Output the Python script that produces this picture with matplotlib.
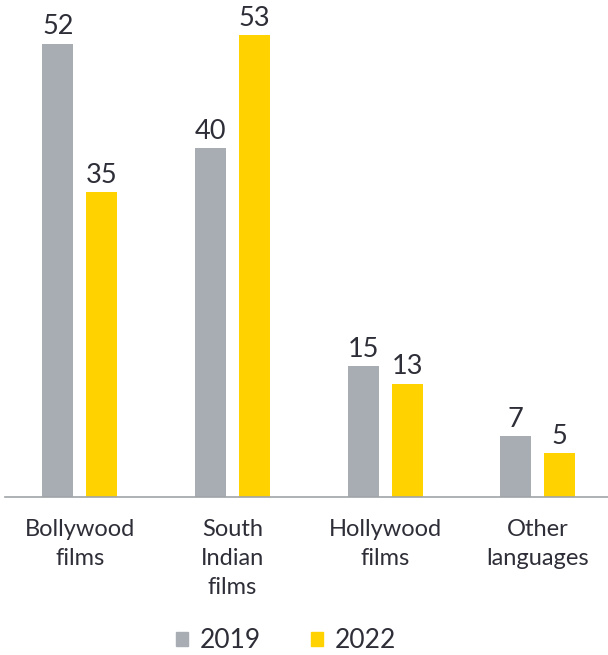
import numpy as np
import matplotlib.pyplot as plt
from matplotlib.patches import Patch

categories = ['Bollywood\nfilms', 'South\nIndian\nfilms', 'Hollywood\nfilms', 'Other\nlanguages']
vals_2019 = [52, 40, 15, 7]
vals_2022 = [35, 53, 13, 5]
series = ['2019', '2022']

GREY = '#a8adb3'
YELLOW = '#ffd200'
TXT = '#2e2e38'

plt.rcParams['font.family'] = ['Lato', 'DejaVu Sans']

fig = plt.figure(figsize=(6.08, 6.55), dpi=100)
ax = fig.add_axes([5/608, 158/655, 603/608, 497/655])

x = np.arange(len(categories))
w = 0.203
off = 0.144
b1 = ax.bar(x - off, vals_2019, w, color=GREY)
b2 = ax.bar(x + off, vals_2022, w, color=YELLOW)

for bars in (b1, b2):
    for r in bars:
        ax.annotate(str(int(r.get_height())), (r.get_x() + r.get_width()/2, r.get_height()),
                    xytext=(0, 3), textcoords='offset points', ha='center', va='bottom',
                    fontsize=19.5, color=TXT)

ax.set_xlim(-0.49, 3.46)
ax.set_ylim(0, 57)
ax.set_xticks(x)
ax.set_xticklabels(categories, fontsize=17, color=TXT, linespacing=1.45, va='top')
ax.tick_params(axis='x', length=0, pad=16)
ax.set_yticks([])
for s in ['top', 'right', 'left']:
    ax.spines[s].set_visible(False)
ax.spines['bottom'].set_color('#a0a4a8')
ax.spines['bottom'].set_linewidth(1.2)

handles = [Patch(color=GREY), Patch(color=YELLOW)]
fig.legend(handles, series, loc='center', bbox_to_anchor=(286/608, 1 - 641/655), ncol=2,
           frameon=False, fontsize=19, handlelength=0.45, handleheight=0.45,
           handletextpad=0.45, columnspacing=1.9, labelcolor=TXT)

fig.savefig('out.png', dpi=100)
